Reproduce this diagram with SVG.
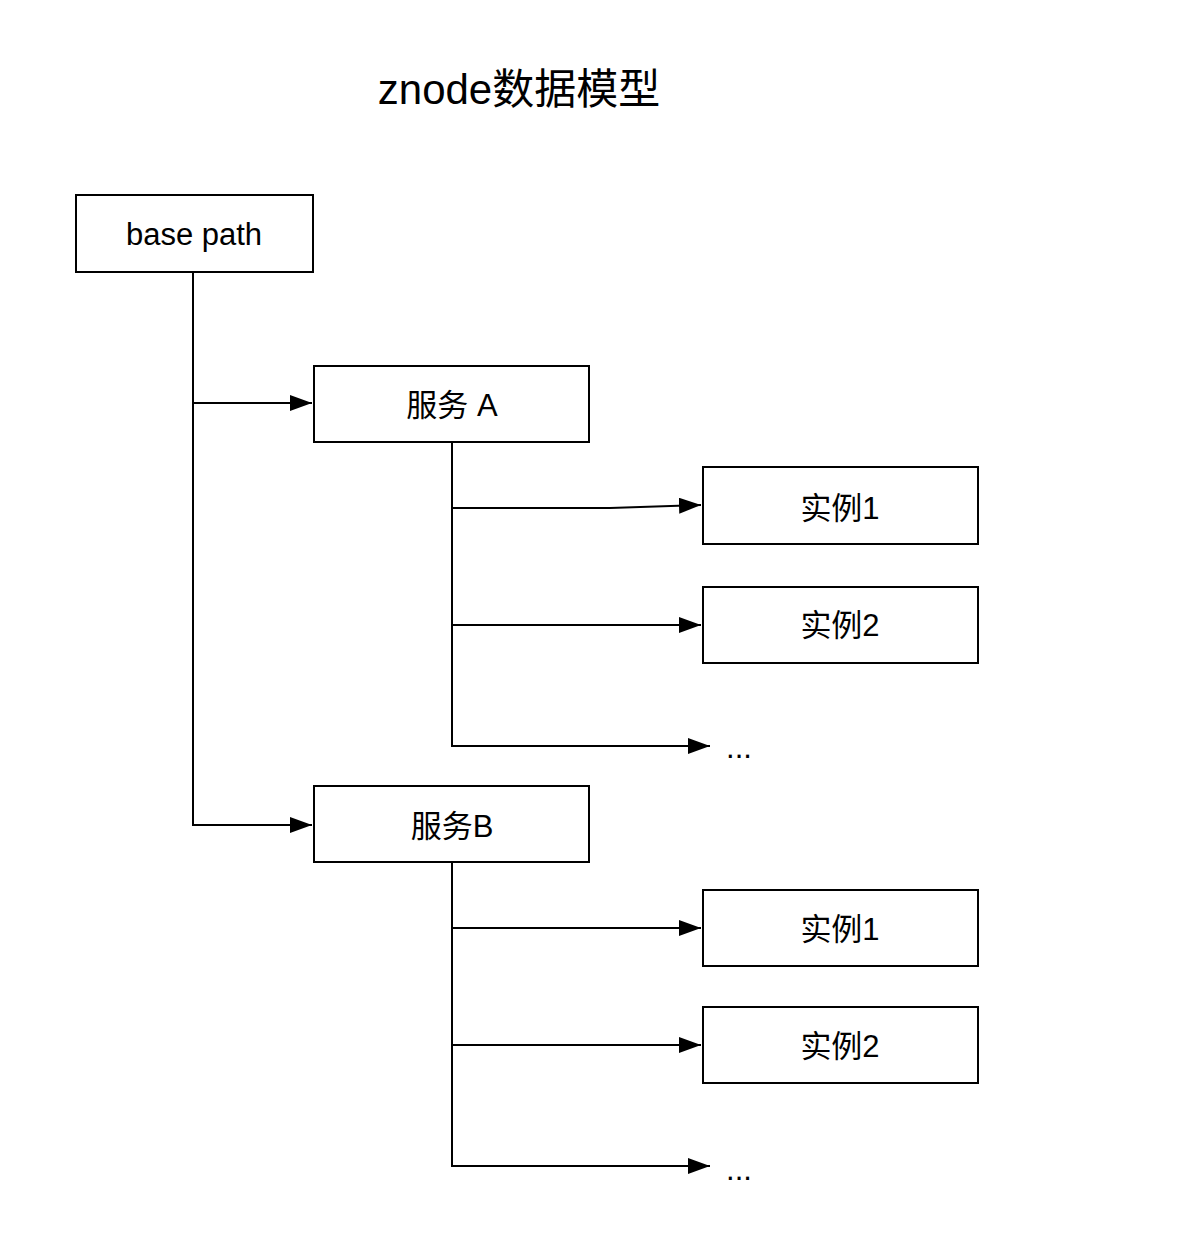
<svg xmlns="http://www.w3.org/2000/svg" width="1192" height="1250" viewBox="0 0 1192 1250">
<style>
.box{fill:#fff;stroke:#000;stroke-width:2}
.lbl{font-family:"Liberation Sans","Noto Sans CJK SC",sans-serif;font-size:31px;fill:#000;text-anchor:middle}
.edge{fill:none;stroke:#000;stroke-width:2}
</style>
<defs>
<marker id="arr" markerWidth="22" markerHeight="16" refX="22" refY="8" orient="auto" markerUnits="userSpaceOnUse">
<path d="M0,0 L22,8 L0,16 Z" fill="#000"/>
</marker>
</defs>
<rect width="1192" height="1250" fill="#fff"/>
<text x="519" y="104" style="font-family:'Liberation Sans','Noto Sans CJK SC',sans-serif;font-size:42px;text-anchor:middle">znode数据模型</text>
<g id="connectors">
<path class="edge" d="M193,272 V825 H312" marker-end="url(#arr)"/>
<path class="edge" d="M193,403 H312" marker-end="url(#arr)"/>
<path class="edge" d="M452,442 V746 H710" marker-end="url(#arr)"/>
<path class="edge" d="M452,508 H610 L701,505" marker-end="url(#arr)"/>
<path class="edge" d="M452,625 H701" marker-end="url(#arr)"/>
<path class="edge" d="M452,862 V1166 H710" marker-end="url(#arr)"/>
<path class="edge" d="M452,928 H701" marker-end="url(#arr)"/>
<path class="edge" d="M452,1045 H701" marker-end="url(#arr)"/>
</g>
<g id="base"><rect class="box" x="76" y="195" width="237" height="77"/><text class="lbl" x="194" y="245">base path</text></g>
<g id="svcA"><rect class="box" x="314" y="366" width="275" height="76"/><text class="lbl" x="452" y="416">服务 A</text></g>
<g id="a1"><rect class="box" x="703" y="467" width="275" height="77"/><text class="lbl" x="840" y="519">实例1</text></g>
<g id="a2"><rect class="box" x="703" y="587" width="275" height="76"/><text class="lbl" x="840" y="636">实例2</text></g>
<g id="aMore"><text class="lbl" x="739" y="758">...</text></g>
<g id="svcB"><rect class="box" x="314" y="786" width="275" height="76"/><text class="lbl" x="452" y="837">服务B</text></g>
<g id="b1"><rect class="box" x="703" y="890" width="275" height="76"/><text class="lbl" x="840" y="940">实例1</text></g>
<g id="b2"><rect class="box" x="703" y="1007" width="275" height="76"/><text class="lbl" x="840" y="1057">实例2</text></g>
<g id="bMore"><text class="lbl" x="739" y="1180">...</text></g>
</svg>
